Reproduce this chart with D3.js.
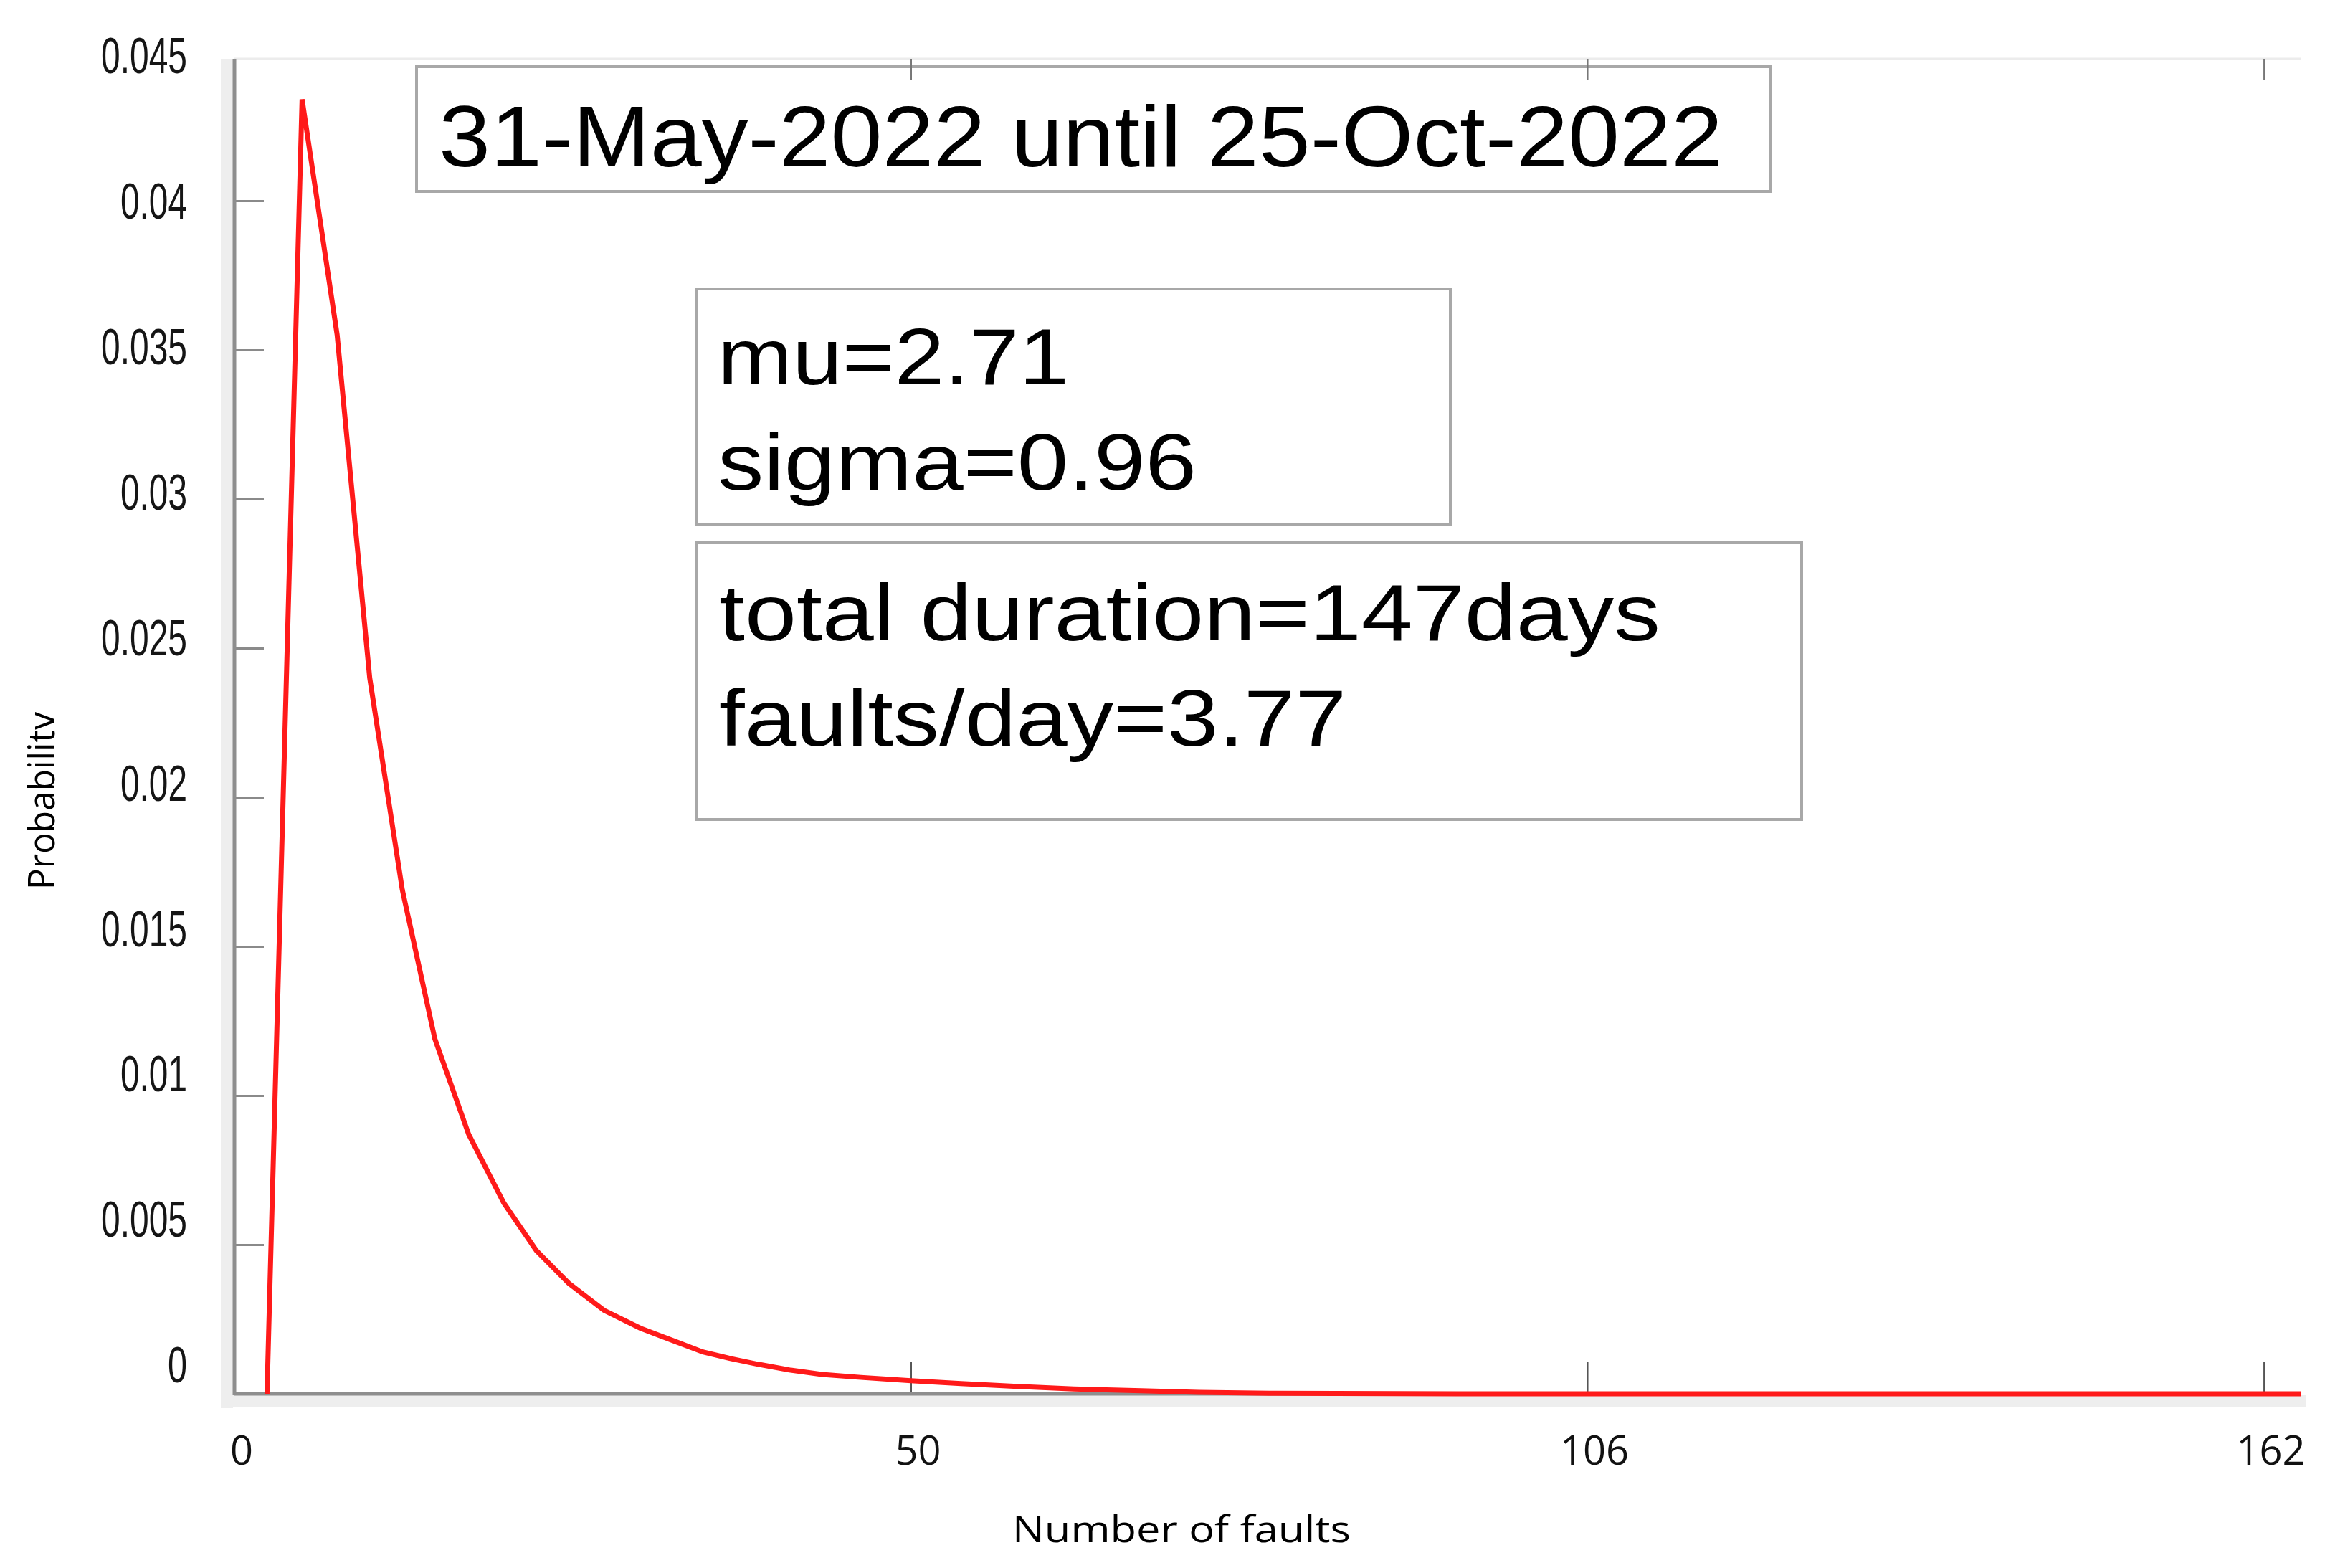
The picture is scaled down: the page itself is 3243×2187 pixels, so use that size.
<!DOCTYPE html>
<html>
<head>
<meta charset="utf-8">
<script src="https://cdn.jsdelivr.net/npm/d3@7"></script>
<style>
  body { margin: 0; background: #fff; }
  svg { display: block; }
</style>
</head>
<body>
<script>
// values
var faults = [2.6, 5.4, 8.2, 10.8, 13.4, 16.0, 18.7, 21.5, 24.1, 26.7, 29.5, 32.4, 34.9, 37.4,
              39.6, 41.8, 44.3, 46.9, 50.0, 54.0, 58.0, 62.2, 67.0, 72.4, 77.0, 82.6, 100, 130, 165];
var probability = [0, 0.0434, 0.0355, 0.0240, 0.0169, 0.0119, 0.0087, 0.0064, 0.0048, 0.0037,
                   0.0028, 0.0022, 0.0018, 0.0014, 0.00118, 0.00099, 0.0008, 0.00065, 0.00055,
                   0.00044, 0.00034, 0.00025, 0.00016, 0.0001, 0.00005, 0.00002, 0, 0, 0];

var yTickValues = [0, 0.005, 0.01, 0.015, 0.02, 0.025, 0.03, 0.035, 0.04, 0.045];
var yTickLabels = ["0", "0.005", "0.01", "0.015", "0.02", "0.025", "0.03", "0.035", "0.04", "0.045"];
var xTickValues = [0, 54, 108, 162];
var xTickLabels = ["0", "50", "106", "162"];

var titleText = "31-May-2022 until 25-Oct-2022";
var paramLines = ["mu=2.71", "sigma=0.96"];
var durationLines = ["total duration=147days", "faults/day=3.77"];

var width = 3243;
var height = 2187;
var plotLeft = 327, plotRight = 3210, plotTop = 82, plotBottom = 1944;

var svg = d3.select("body").append("svg")
            .attr("width", width)
            .attr("height", height);

var x = d3.scaleLinear()
          .domain([0, 165])
          .range([plotLeft, plotRight]);

var y = d3.scaleLinear()
          .domain([0, 0.045])
          .range([plotBottom, 72]);

// labels on the left sit a bit off the ticks in the original
var yLab = d3.scaleLinear()
             .domain([0, 0.045])
             .range([1903, 77]);

// light frame band and faint top line
svg.append("rect").attr("x", plotLeft - 19).attr("y", plotTop).attr("width", 17)
   .attr("height", plotBottom - plotTop + 20).attr("fill", "#eeeeee");
svg.append("rect").attr("x", plotLeft - 19).attr("y", plotBottom + 2)
   .attr("width", plotRight - plotLeft + 25).attr("height", 17).attr("fill", "#eeeeee");
svg.append("line").attr("x1", plotLeft).attr("x2", plotRight).attr("y1", plotTop).attr("y2", plotTop)
   .attr("stroke", "#ececec").attr("stroke-width", 3);

// boxes
function box(x0, y0, w, h) {
    svg.append("rect")
       .attr("x", x0).attr("y", y0).attr("width", w).attr("height", h)
       .attr("fill", "#fff")
       .attr("stroke", "#a8a8a8")
       .attr("stroke-width", 4);
}
box(581, 93, 1889, 174);
box(972, 403, 1051, 329);
box(972, 757, 1541, 386);

var boxFont = "'Liberation Sans', Arial, sans-serif";
svg.append("text")
   .attr("x", 612).attr("y", 232)
   .attr("font-family", boxFont).attr("font-size", 120)
   .attr("textLength", 1791).attr("lengthAdjust", "spacingAndGlyphs")
   .text(titleText);

var paramWidths = [490, 668];
svg.selectAll(".param").data(paramLines).enter().append("text")
   .attr("x", 1001)
   .attr("y", function (d, i) { return 536 + i * 147; })
   .attr("font-family", boxFont).attr("font-size", 112)
   .attr("textLength", function (d, i) { return paramWidths[i]; })
   .attr("lengthAdjust", "spacingAndGlyphs")
   .text(function (d) { return d; });

var durWidths = [1313, 875];
svg.selectAll(".dur").data(durationLines).enter().append("text")
   .attr("x", 1003)
   .attr("y", function (d, i) { return 893 + i * 147; })
   .attr("font-family", boxFont).attr("font-size", 112)
   .attr("textLength", function (d, i) { return durWidths[i]; })
   .attr("lengthAdjust", "spacingAndGlyphs")
   .text(function (d) { return d; });

// y ticks pointing inward
var yAxis = d3.axisRight(y)
              .tickValues(yTickValues.slice(1, -1))
              .tickSize(41)
              .tickFormat("");
var gy = svg.append("g").attr("transform", "translate(" + plotLeft + ",0)").call(yAxis);
gy.select(".domain").remove();
gy.selectAll("line").attr("stroke", "#8a8a8a").attr("stroke-width", 3);

// narrow tick labels: squeeze to the width seen in the picture
svg.selectAll(".ylab").data(yTickValues).enter().append("text")
   .attr("x", 261)
   .attr("y", function (d) { return yLab(d); })
   .attr("dy", "0.36em")
   .attr("text-anchor", "end")
   .attr("font-family", "'Liberation Sans', Arial, sans-serif")
   .attr("font-size", 70)
   .attr("fill", "#151515")
   .attr("textLength", function (d, i) {
       var s = yTickLabels[i];
       return s.replace(".", "").length * 27 + (s.indexOf(".") >= 0 ? 12 : 0);
   })
   .attr("lengthAdjust", "spacingAndGlyphs")
   .text(function (d, i) { return yTickLabels[i]; });

// bottom ticks pointing up, top ticks pointing down
var xAxisBottom = d3.axisTop(x).tickValues(xTickValues.slice(1)).tickSize(45).tickFormat("");
var gxb = svg.append("g").attr("transform", "translate(0," + plotBottom + ")").call(xAxisBottom);
gxb.select(".domain").remove();
gxb.selectAll("line").attr("stroke", "#555").attr("stroke-width", 2);

var xAxisTop = d3.axisBottom(x).tickValues(xTickValues.slice(1)).tickSize(30).tickFormat("");
var gxt = svg.append("g").attr("transform", "translate(0," + plotTop + ")").call(xAxisTop);
gxt.select(".domain").remove();
gxt.selectAll("line").attr("stroke", "#777").attr("stroke-width", 2);

svg.selectAll(".xlab").data(xTickValues).enter().append("text")
   .attr("x", function (d) { return x(d) + 10; })
   .attr("y", 2043)
   .attr("text-anchor", "middle")
   .attr("font-family", "'Open Sans', sans-serif")
   .attr("font-size", 56)
   .attr("fill", "#111")
   .text(function (d, i) { return xTickLabels[i]; });

// axis lines
svg.append("line").attr("x1", plotLeft).attr("x2", plotLeft).attr("y1", plotTop).attr("y2", plotBottom + 2)
   .attr("stroke", "#8e8e8e").attr("stroke-width", 5);
svg.append("line").attr("x1", plotLeft).attr("x2", plotRight).attr("y1", plotBottom).attr("y2", plotBottom)
   .attr("stroke", "#8e8e8e").attr("stroke-width", 5);

// curve
var line = d3.line()
             .x(function (d) { return x(d[0]); })
             .y(function (d) { return y(d[1]); });

svg.append("path")
   .datum(d3.zip(faults, probability))
   .attr("d", line)
   .attr("fill", "none")
   .attr("stroke", "#ff1a1a")
   .attr("stroke-width", 7)
   .attr("stroke-linejoin", "miter");

// axis titles
svg.append("text")
   .attr("transform", "translate(76,1117) rotate(-90)")
   .attr("text-anchor", "middle")
   .attr("font-family", "'Open Sans', sans-serif")
   .attr("font-size", 52)
   .attr("textLength", 248).attr("lengthAdjust", "spacingAndGlyphs")
   .text("Probabilitv");

svg.append("text")
   .attr("x", 1412).attr("y", 2151)
   .attr("font-family", "'Open Sans', sans-serif")
   .attr("font-size", 52)
   .attr("textLength", 472).attr("lengthAdjust", "spacingAndGlyphs")
   .text("Number of faults");
</script>
</body>
</html>
